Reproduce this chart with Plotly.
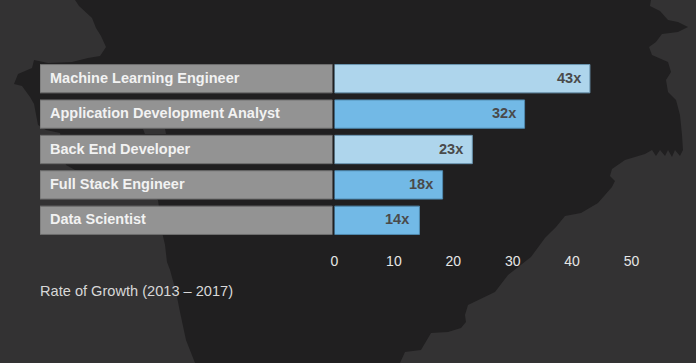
import plotly.graph_objects as go

categories = ["Machine Learning Engineer", "Application Development Analyst",
              "Back End Developer", "Full Stack Engineer", "Data Scientist"]
growth = [43, 32, 23.2, 18.2, 14.3]
growth_labels = ["43x", "32x", "23x", "18x", "14x"]
label_anchor = [43, 32, 23, 18, 14]
bar_colors = ["#aed5ec", "#72b9e6", "#aed5ec", "#72b9e6", "#72b9e6"]
bar_edges = ["#6a95b0", "#4f88ad", "#6a95b0", "#4f88ad", "#4f88ad"]
tick_values = [0, 10, 20, 30, 40, 50]
caption = "Rate of Growth (2013 – 2017)"

W, H = 696, 363
BG = "#201f20"
LAND = "#333233"


def path(points):
    return "M " + " L ".join(f"{x/W:.4f},{1-y/H:.4f}" for x, y in points) + " Z"


west_land = [(0, 0), (75, 0), (79, 6), (92, 18), (96, 28), (101, 36), (106, 47), (100, 56), (88, 58),
             (72, 62), (48, 63), (34, 60), (32, 68), (18, 74), (14, 84), (22, 86), (30, 97), (34, 104),
             (38, 125), (46, 130), (60, 133), (66, 165), (75, 170), (100, 173), (140, 186), (158, 200),
             (160, 215), (162, 232), (165, 245),
             (167, 262), (170, 270), (176, 292), (180, 312), (186, 340), (195, 363), (0, 363)]
east_land = [(651, 0), (650, 6), (660, 11), (668, 20), (678, 22), (688, 27), (678, 32), (662, 34), (656, 42),
             (649, 47), (652, 55), (668, 62), (671, 72), (666, 80), (668, 92), (676, 100), (680, 115),
             (682, 135), (683, 150), (680, 156), (675, 150), (672, 157), (668, 150), (665, 156),
             (660, 150), (656, 156), (652, 150), (645, 154), (625, 160), (612, 169), (610, 176), (615, 181),
             (612, 187), (598, 203), (581, 213), (565, 216), (556, 227), (545, 238), (531, 257), (508, 275),
             (495, 292), (468, 305), (465, 315), (466, 322), (461, 328), (448, 332), (431, 333),
             (421, 350), (405, 352), (400, 363), (696, 363), (696, 0)]
island = [(143, 129), (165, 129), (166, 134), (145, 134)]

fig = go.Figure()
fig.add_trace(go.Bar(y=categories, x=[1] * len(categories), orientation="h", xaxis="x2", yaxis="y",
                     width=0.8, marker=dict(color="#939393", line=dict(color="#6e6e6e", width=1)),
                     hoverinfo="skip", showlegend=False))
fig.add_trace(go.Bar(y=categories, x=growth, orientation="h", xaxis="x", yaxis="y",
                     width=0.8, marker=dict(color=bar_colors, line=dict(color=bar_edges, width=1)),
                     showlegend=False))

annotations = []
for c in categories:
    annotations.append(dict(x=0, y=c, xref="x2", yref="y", text=f"<b>{c}</b>", showarrow=False,
                            xanchor="left", xshift=8, yshift=1, font=dict(size=14.5, color="#f2f2f2")))
for c, v, t in zip(categories, label_anchor, growth_labels):
    annotations.append(dict(x=v, y=c, xref="x", yref="y", text=f"<b>{t}</b>", showarrow=False,
                            xanchor="right", xshift=-6.5, yshift=1, font=dict(size=14.5, color="#4a4a4a")))
annotations.append(dict(x=40 / W, y=1 - 291 / H, xref="paper", yref="paper", text=caption, showarrow=False,
                        xanchor="left", yanchor="middle", xshift=-2, font=dict(size=14.6, color="#d8d8d8")))

fig.update_layout(
    width=W, height=H, margin=dict(l=0, r=0, t=0, b=0, pad=0, autoexpand=False), autosize=False,
    paper_bgcolor=BG, plot_bgcolor="rgba(0,0,0,0)", barmode="overlay",
    font=dict(family="Liberation Sans, Arial, sans-serif"),
    xaxis=dict(domain=[334.5 / W, 631.5 / W], range=[0, 50], tickvals=tick_values, showgrid=False,
               zeroline=False, showline=False, ticks="outside", ticklen=10, tickcolor="rgba(0,0,0,0)",
               tickfont=dict(size=14, color="#e6e6e6"), anchor="y"),
    xaxis2=dict(domain=[40 / W, 332.5 / W], range=[0, 1], visible=False, anchor="y"),
    yaxis=dict(domain=[1 - 238 / H, 1 - 61 / H], autorange="reversed", visible=False, anchor="x"),
    shapes=[dict(type="path", xref="paper", yref="paper", path=path(p), fillcolor=LAND,
                 line=dict(width=0), layer="below") for p in (west_land, east_land, island)],
    annotations=annotations,
)
fig.write_html("out.html", config={"displayModeBar": False},
               post_script="document.body.style.margin='0';")
